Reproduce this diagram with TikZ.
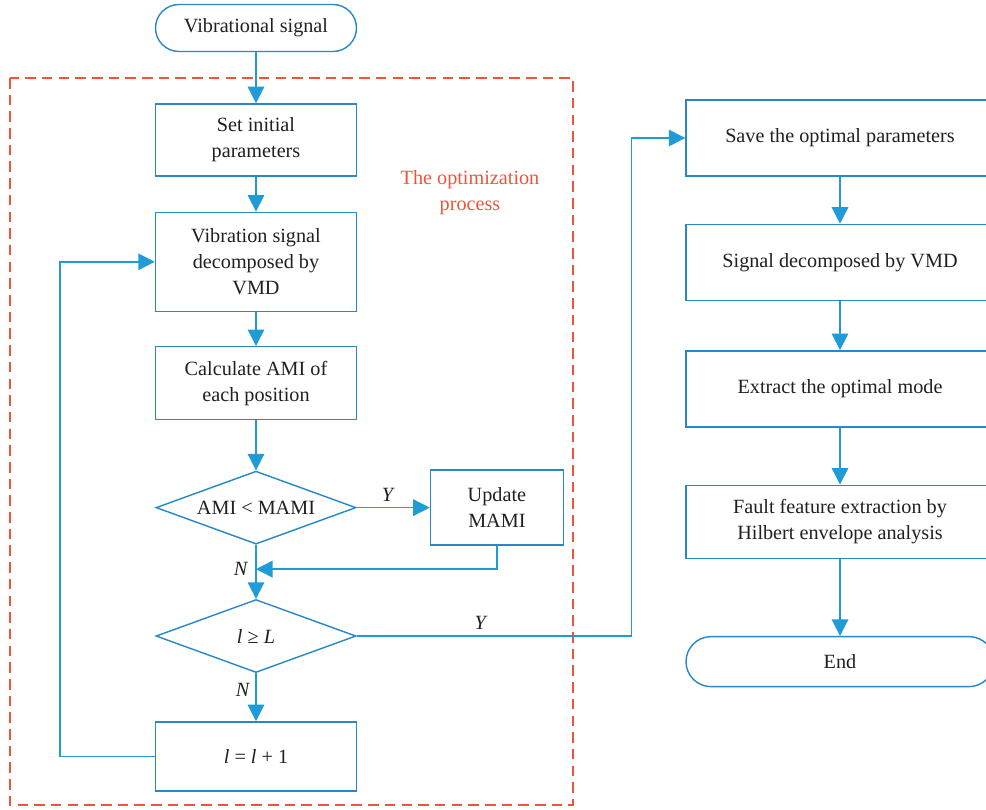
\documentclass[tikz,border=0pt]{standalone}
\usepackage{fontspec}
\setmainfont{Liberation Serif}
\usepackage{tikz}
\usetikzlibrary{arrows.meta, positioning, shapes.geometric, calc}
\definecolor{flowblue}{HTML}{1F9BD7}
\definecolor{boxblue}{HTML}{2787C8}
\definecolor{optred}{HTML}{EC553B}
\definecolor{textgray}{HTML}{231F20}

\begin{document}
\begin{tikzpicture}[
  node distance=10.2mm and 14.6mm,
  font=\fontsize{11.5pt}{14.8pt}\selectfont\color{textgray},
  box/.style={rectangle, draw=boxblue, line width=0.8pt, fill=white,
              minimum width=40.2mm, minimum height=14.4mm, align=center},
  wide/.style={box, minimum width=61.6mm, minimum height=15.2mm},
  term/.style={box, rounded corners=4.7mm, minimum height=9.4mm},
  decision/.style={diamond, draw=boxblue, line width=0.8pt, fill=white,
                   aspect=2.8, minimum width=40mm, minimum height=14.6mm, inner sep=0pt},
  lbl/.style={font=\fontsize{11.5pt}{14pt}\selectfont\itshape, text=textgray},
  arrow/.style={-{Triangle[length=3.3mm, width=3.3mm]}, line width=0.8pt, color=flowblue}
]
  \useasboundingbox (0,0) rectangle (19.72,-16.2);

  % left column: optimization loop
  \node[term] (start) at (5.12,-0.56) {Vibrational signal};
  \node[box, below=of start] (set) {Set initial\\parameters};
  \node[box, below=7.0mm of set, minimum height=19.8mm] (vmd) {Vibration signal\\decomposed by\\VMD};
  \node[box, below=6.8mm of vmd, minimum height=14.6mm] (calc) {Calculate AMI of\\each position};
  \node[decision, below=10.0mm of calc] (dec1) {AMI < MAMI};
  \node[box, right=of dec1, minimum width=26.6mm, minimum height=15mm] (update) {Update\\MAMI};
  \node[decision, below=10.8mm of dec1] (dec2) {\textit{l} ≥ \textit{L}};
  \node[box, below=9.6mm of dec2, minimum height=13.8mm] (inc) {\textit{l} = \textit{l} + 1};

  \draw[optred, dashed, dash pattern=on 6pt off 3.5pt, line width=0.6pt] (0.2,-1.56) rectangle (11.46,-16.1);
  \node[align=center, color=optred] (optlabel) at (9.4,-3.86) {The optimization\\process};

  % right column: final analysis
  \node[wide] (save) at (16.8,-2.76) {Save the optimal parameters};
  \node[wide, below=9.4mm of save] (sig) {Signal decomposed by VMD};
  \node[wide, below=9.8mm of sig] (ext) {Extract the optimal mode};
  \node[wide, below=11.4mm of ext, minimum height=14.6mm] (fault) {Fault feature extraction by\\Hilbert envelope analysis};
  \node[term, below=15.4mm of fault, minimum width=61.6mm, minimum height=10mm, rounded corners=5mm] (end) {End};

  \coordinate (merge) at ($(dec1.south)!0.45!(dec2.north)$);
  \coordinate (bend) at ([xshift=-10.8mm]save.west);
  \coordinate (back) at ([xshift=-19mm]inc.west);

  \draw[arrow] (start) -- (set);
  \draw[arrow] (set) -- (vmd);
  \draw[arrow] (vmd) -- (calc);
  \draw[arrow] (calc) -- (dec1);
  \draw[arrow] (dec1) -- node[lbl, above, pos=0.42] {Y} (update);
  \draw[arrow] (dec1) -- (dec2);
  \draw[arrow] (update.south) |- (merge);
  \node[lbl, left=0.5mm of merge] (n1) {N};
  \draw[arrow] (dec2) -- node[lbl, left, pos=0.35] {N} (inc);
  \draw[arrow] (inc.west) -- (back) |- (vmd.west);
  \draw[arrow] (dec2.east) -- node[lbl, above, pos=0.45] {Y} (dec2.east -| bend) -- (bend) -- (save.west);

  \draw[arrow] (save) -- (sig);
  \draw[arrow] (sig) -- (ext);
  \draw[arrow] (ext) -- (fault);
  \draw[arrow] (fault) -- (end);
\end{tikzpicture}
\end{document}
